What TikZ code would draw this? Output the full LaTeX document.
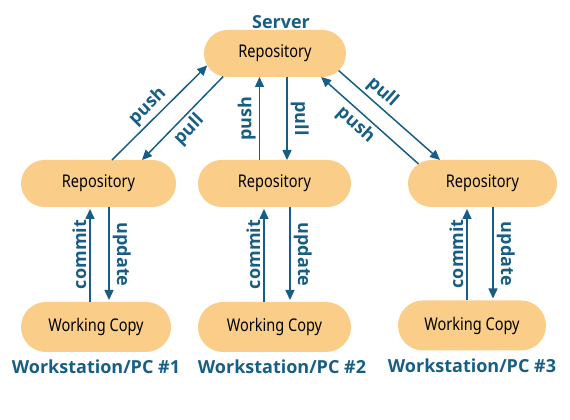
\documentclass[tikz,border=0pt]{standalone}
\usepackage{fontspec}
\setmainfont{Noto Sans}[FakeStretch=0.83]
\newfontfamily\labelfont{Open Sans}
\usetikzlibrary{shapes.misc,arrows.meta}
\definecolor{gitorange}{RGB}{250,205,137}
\definecolor{gitblue}{RGB}{24,94,132}

\begin{document}
\begin{tikzpicture}[x=1pt,y=1pt,
  repo/.style={rounded rectangle,fill=gitorange,minimum height=47pt,inner sep=0pt,outer sep=0pt,
    font=\fontsize{17.5}{19}\selectfont},
  wcopy/.style={repo,minimum height=50pt},
  lbl/.style={text=gitblue,font=\labelfont\bfseries\fontsize{18}{20}\selectfont},
  arr/.style={gitblue,line width=1.5pt,-{Triangle[length=10pt,width=9pt]}},
  tag/.style={lbl,sloped,inner sep=3pt}]
  \useasboundingbox (0,0) rectangle (570,420);

  % server
  \node[repo,minimum width=142pt] (srv) at (275,366.5) {Repository};
  \node[lbl] (srvlbl) at (281,398) {Server};

  % workstations
  \node[repo,minimum width=155pt] (r1) at (98.5,236.5) {Repository};
  \node[repo,minimum width=153pt] (r2) at (274.5,236.5) {Repository};
  \node[repo,minimum width=149pt] (r3) at (482.5,236.5) {Repository};
  \node[wcopy,minimum width=150pt] (w1) at (96,93) {Working Copy};
  \node[wcopy,minimum width=153pt] (w2) at (274.5,93) {Working Copy};
  \node[wcopy,minimum width=148pt] (w3) at (472,94.5) {Working Copy};
  \node[lbl] (pc1) at (96,53) {Workstation/PC \#1};
  \node[lbl] (pc2) at (282,53) {Workstation/PC \#2};
  \node[lbl] (pc3) at (472,54) {Workstation/PC \#3};

  % push / pull
  \draw[arr] ([xshift=13.5pt]r1.north) -- (srv.190) node[tag,above,pos=0.47] {push};
  \draw[arr] (srv.204) -- ([xshift=43.5pt]r1.north) node[tag,below,pos=0.53] {pull};
  \draw[arr] ([xshift=-15pt]r2.north) -- ([xshift=-15pt]r2.north |- srv.south) node[tag,above,midway] {push};
  \draw[arr] ([xshift=12pt]srv.south) -- ([xshift=12pt]srv.south |- r2.north) node[tag,above,midway] {pull};
  \draw[arr] (r3.163) -- (srv.333) node[tag,below,pos=0.56] {push};
  \draw[arr] (srv.345) -- ([xshift=-42.5pt]r3.north) node[tag,above,pos=0.35] {pull};

  % commit / update
  \draw[arr,shorten >=2pt] ([xshift=-8.5pt]r1.south |- w1.north) -- ([xshift=-8.5pt]r1.south) node[tag,above,midway] {commit};
  \draw[arr,shorten >=2pt] ([xshift=10.5pt]r1.south) -- ([xshift=10.5pt]r1.south |- w1.north) node[tag,above,midway] {update};
  \draw[arr,shorten >=2pt] ([xshift=-10.5pt]r2.south |- w2.north) -- ([xshift=-10.5pt]r2.south) node[tag,above,midway] {commit};
  \draw[arr,shorten >=2pt] ([xshift=15.5pt]r2.south) -- ([xshift=15.5pt]r2.south |- w2.north) node[tag,above,midway] {update};
  \draw[arr,shorten >=2pt] ([xshift=-15.5pt]r3.south |- w3.north) -- ([xshift=-15.5pt]r3.south) node[tag,above,midway] {commit};
  \draw[arr,shorten >=2pt] ([xshift=10.5pt]r3.south) -- ([xshift=10.5pt]r3.south |- w3.north) node[tag,above,midway] {update};
\end{tikzpicture}
\end{document}
